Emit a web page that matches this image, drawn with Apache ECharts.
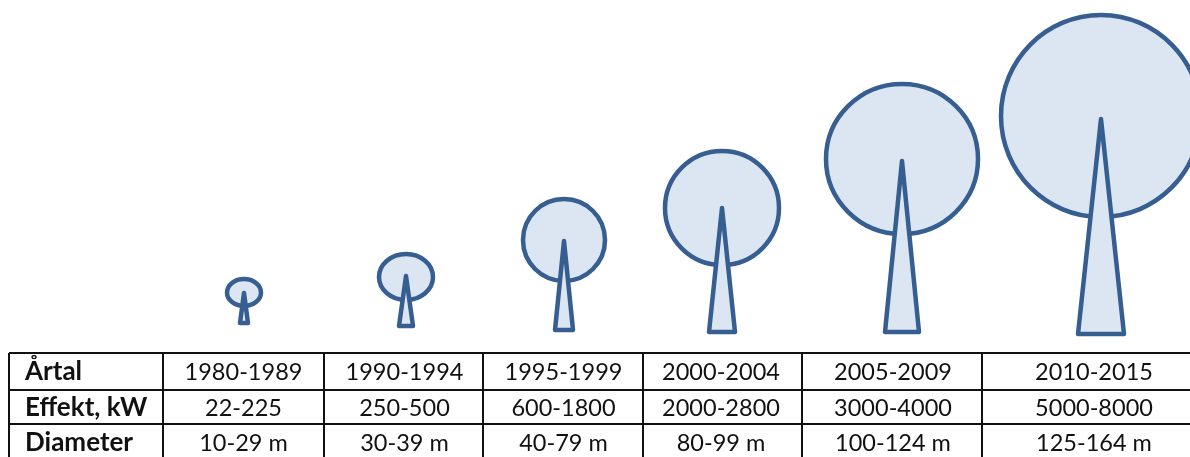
<!DOCTYPE html>
<html><head><meta charset="utf-8">
<style>html,body{margin:0;padding:0;background:#fff}#c{width:1190px;height:457px;filter:blur(0.45px)}</style>
<script src="https://cdn.jsdelivr.net/npm/echarts@6/dist/echarts.min.js"></script>
</head><body><div id="c"></div>
<script>
// Turbine geometry (in picture units)
const periods   = ['1980-1989','1990-1994','1995-1999','2000-2004','2005-2009','2010-2015'];
const powers    = ['22-225','250-500','600-1800','2000-2800','3000-4000','5000-8000'];
const diameters = ['10-29 m','30-39 m','40-79 m','80-99 m','100-124 m','125-164 m'];
const rowHeads  = ['Årtal','Effekt, kW','Diameter'];
const towerX    = [244,406,564,722,902,1101];
const towerTop  = [293,276,241,208,161,119];
const towerBase = [323,326,330,332,332,334];
const towerHalf = [4,7,9,13,17,23];
const rotorX    = [244,406,564,722,902,1101];
const rotorY    = [292.5,277,240,208,159,116];
const rotorRx   = [17,27,41,57,76,100];
const rotorRy   = [13.5,23,41,57,75,101];
const colEdges  = [9,163,324,483,643,802,982,1190];
const rowEdges  = [353,390,424,457];
const textX     = [243.5,404.5,563.5,721,893,1094];
const rowText   = [372,408,443];

const STROKE='#365e91', FILL='#dce6f2', INK='#111';
const font='"Lato","Open Sans",sans-serif';
const turbines = towerX.map((x,i)=>[x,towerTop[i],towerBase[i],towerHalf[i],rotorX[i],rotorY[i],rotorRx[i],rotorRy[i]]);

const rows=[periods,powers,diameters];
const cells=[];
rowHeads.forEach((h,r)=>{
  cells.push([25,rowText[r],h,1]);
  rows[r].forEach((t,c)=>cells.push([textX[c],rowText[r],t,0]));
});
const hLines=rowEdges.slice(0,3).map(y=>[colEdges[0],y,colEdges[7],y]);
const vLines=colEdges.slice(0,7).map(x=>[x,rowEdges[0],x,rowEdges[3]]);

const chart=echarts.init(document.getElementById('c'),null,{renderer:'canvas'});
chart.setOption({
  animation:false,
  backgroundColor:'#fff',
  grid:{left:0,right:0,top:0,bottom:0},
  xAxis:{type:'value',min:0,max:1190,show:false},
  yAxis:{type:'value',min:0,max:457,inverse:true,show:false},
  series:[
  {type:'custom',coordinateSystem:'cartesian2d',silent:true,clip:false,
   encode:{x:0,y:1},data:turbines,
   renderItem(p,api){
     const [x,t,b,h,rx,ry,rw,rh]=[0,1,2,3,4,5,6,7].map(i=>api.value(i));
     const c=api.coord([rx,ry]);
     const e=api.coord([rx+rw,ry+rh]);
     const tip=api.coord([x,t]);
     const l=api.coord([x-h,b]), r=api.coord([x+h,b]);
     const st={fill:FILL,stroke:STROKE,lineWidth:4.5,lineJoin:'round'};
     return {type:'group',children:[
       {type:'ellipse',shape:{cx:c[0],cy:c[1],rx:e[0]-c[0],ry:e[1]-c[1]},style:st},
       {type:'polygon',shape:{points:[tip,r,l]},style:st}
     ]};
   }},
  {type:'custom',coordinateSystem:'cartesian2d',silent:true,clip:false,
   encode:{x:0,y:1},data:hLines.concat(vLines),
   renderItem(p,api){
     const a=api.coord([api.value(0),api.value(1)]), b=api.coord([api.value(2),api.value(3)]);
     return {type:'line',shape:{x1:a[0],y1:a[1],x2:b[0],y2:b[1]},style:{stroke:'#111',lineWidth:2}};
   }},
  {type:'custom',coordinateSystem:'cartesian2d',silent:true,clip:false,
   encode:{x:0,y:1},data:cells,
   renderItem(p,api){
     const d=cells[p.dataIndex], a=api.coord([d[0],d[1]]);
     return {type:'text',x:a[0],y:a[1],style:{text:d[2],fill:INK,
       font:d[3]?'bold 26px '+font:'23.5px '+font,
       align:d[3]?'left':'center',verticalAlign:'middle'}};
   }}
  ]
});
</script></body></html>
